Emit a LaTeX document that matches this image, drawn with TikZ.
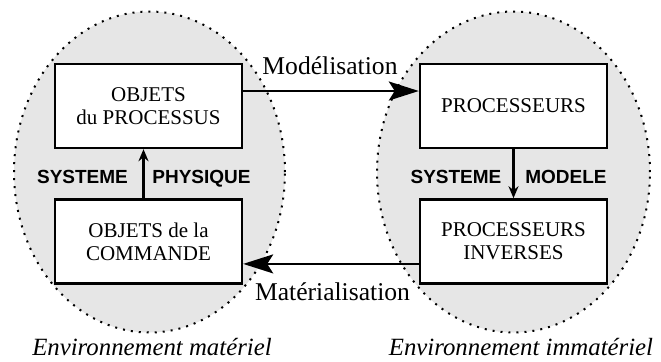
\documentclass[tikz,border=0pt]{standalone}
\usepackage{fontspec}
\setmainfont{Liberation Serif}
\setsansfont{Liberation Sans}
\usetikzlibrary{arrows.meta, positioning}
\definecolor{envfill}{RGB}{230,230,230}

\begin{document}
\begin{tikzpicture}[x=0.5pt, y=-0.5pt,
  box/.style={rectangle, draw=black, line width=1.2pt, fill=white, inner sep=0pt,
              minimum width=93.5pt, minimum height=42pt, align=center,
              font=\fontsize{10.5}{11.5}\selectfont},
  env/.style={fill=envfill, draw=black, line width=1pt, dash pattern=on 1pt off 3pt},
  big/.style={-{Stealth[length=15pt, width=9.5pt, inset=3pt]}, line width=1.1pt},
  small/.style={-{Stealth[length=6pt, width=5pt]}, line width=1.1pt},
  sys/.style={font=\sffamily\bfseries\fontsize{9.5}{11}\selectfont, anchor=base},
  flow/.style={font=\fontsize{12.8}{14}\selectfont, anchor=base},
  envlbl/.style={font=\itshape\fontsize{12.4}{14}\selectfont, anchor=base}]
  \useasboundingbox (0,0) rectangle (661,361);
  % environnements
  \draw[env] (149.5,172) ellipse [x radius=67.75pt, y radius=80.25pt];
  \draw[env] (513.5,172) ellipse [x radius=68.25pt, y radius=80.25pt];
  % objets
  \node[box] (obj) at (148.5,106) {OBJETS\\du PROCESSUS};
  \node[box, below=24.5pt of obj] (cmd) {OBJETS de la\\COMMANDE};
  \node[box] (proc) at (513.5,106) {PROCESSEURS};
  \node[box, below=24.5pt of proc] (inv) {PROCESSEURS\\INVERSES};
  % liens
  \draw[big] ([yshift=7.5pt]obj.east) -- ([yshift=7.5pt]proc.west);
  \draw[big] ([yshift=-11.25pt]inv.west) -- ([yshift=-11.25pt]cmd.east);
  \draw[small] ([xshift=-2.5pt]cmd.north) -- ([xshift=-2.5pt]obj.south);
  \draw[small] (proc) -- (inv);
  % textes
  \node[flow] (mod) at (330,74) {Modélisation};
  \node[flow] (mat) at (332.5,300) {Matérialisation};
  \node[sys] (sysL) at (82.5,183) {SYSTEME};
  \node[sys] (phy) at (201.5,183) {PHYSIQUE};
  \node[sys] (sysR) at (456,183) {SYSTEME};
  \node[sys] (mdl) at (566,183) {MODELE};
  \node[envlbl] (envL) at (152,355) {Environnement matériel};
  \node[envlbl] (envR) at (521,355) {Environnement immatériel};
\end{tikzpicture}
\end{document}
